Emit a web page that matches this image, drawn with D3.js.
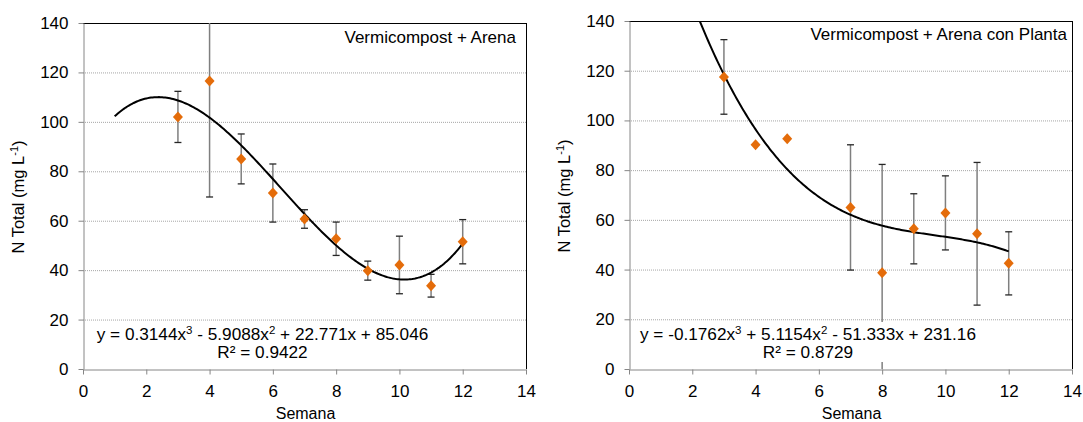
<!DOCTYPE html>
<html><head><meta charset="utf-8">
<script src="https://cdn.jsdelivr.net/npm/d3@7"></script>
<style>
html,body{margin:0;padding:0;background:#fff;}
svg{display:block;font-family:"Liberation Sans",Arial,sans-serif;}
</style></head>
<body>
<svg id="c" width="1083" height="422"></svg>
<script>
// ---- data ----
const xTicks = [0,2,4,6,8,10,12,14];
const yTicks = [0,20,40,60,80,100,120,140];
const gridVals = [20,40,60,80,100,120];

const weeksA = [3,4,5,6,7,8,9,10,11,12];
const nTotalA = [102,116.5,85,71.2,60.7,52.7,39.8,42.1,33.7,51.5];
const errA = [10.35,46.9,10.1,11.75,3.75,6.75,3.85,11.65,4.6,8.95];
const coefA = [0.3144,-5.9088,22.771,85.046];
const titleA = "Vermicompost + Arena";
const eqA = ["y = 0.3144x","3"," - 5.9088x","2"," + 22.771x + 85.046"];
const r2A = "R² = 0.9422";

const weeksB = [3,4,5,7,8,9,10,11,12];
const nTotalB = [117.5,90.2,92.6,65,38.7,56.4,62.8,54.4,42.5];
const errB = [15,0,0,25.2,43.6,14.1,14.9,28.7,12.7];
const coefB = [-0.1762,5.1154,-51.333,231.16];
const titleB = "Vermicompost + Arena con Planta";
const eqB = ["y = -0.1762x","3"," + 5.1154x","2"," - 51.333x + 231.16"];
const r2B = "R² = 0.8729";

const trendRange = [1,12];

const svg = d3.select("#c");

function panel(cfg){
  const x = d3.scaleLinear().domain([0,14]).range([cfg.left,cfg.right]);
  const y = d3.scaleLinear().domain([0,140]).range([cfg.bottom,cfg.top]);
  const g = svg.append("g");
  const cid = "clip"+cfg.id;
  svg.append("clipPath").attr("id",cid).append("rect")
    .attr("x",cfg.left).attr("y",cfg.top)
    .attr("width",cfg.right-cfg.left).attr("height",cfg.bottom-cfg.top);

  // grid
  g.selectAll(".grid").data(gridVals).join("line")
    .attr("x1",cfg.left).attr("x2",cfg.right)
    .attr("y1",d=>y(d)+0.5).attr("y2",d=>y(d)+0.5)
    .attr("stroke","#a6a6a6").attr("stroke-width",1).attr("stroke-dasharray","1,1");

  // border top / right
  g.append("line").attr("x1",cfg.left).attr("x2",cfg.right+0.5)
    .attr("y1",cfg.top+0.5).attr("y2",cfg.top+0.5).attr("stroke","#000");
  g.append("line").attr("x1",cfg.right+0.5).attr("x2",cfg.right+0.5)
    .attr("y1",cfg.top).attr("y2",cfg.bottom).attr("stroke","#000");

  // axes
  const xa = g.append("g").attr("transform",`translate(0,${cfg.bottom+0.5})`)
    .call(d3.axisBottom(x).tickValues(xTicks).tickSize(5).tickSizeOuter(0).tickPadding(10));
  const ya = g.append("g").attr("transform",`translate(${cfg.left+0.5},0)`)
    .call(d3.axisLeft(y).tickValues(yTicks).tickSize(5).tickSizeOuter(0).tickPadding(10));
  [xa,ya].forEach(a=>{
    a.select(".domain").attr("stroke","#868686");
    a.selectAll(".tick line").attr("stroke","#868686");
    a.selectAll(".tick text").attr("fill","#000").attr("font-size",17)
      .attr("font-family","Liberation Sans, Arial, sans-serif");
  });

  // axis titles
  g.append("text").attr("x",(cfg.left+cfg.right)/2+1).attr("y",cfg.bottom+50)
    .attr("text-anchor","middle").attr("font-size",16).text("Semana");
  const yt = g.append("text")
    .attr("transform",`translate(${cfg.ytx},${(cfg.top+cfg.bottom)/2+1}) rotate(-90)`)
    .attr("text-anchor","middle").attr("font-size",16.5);
  yt.append("tspan").text("N Total (mg L");
  yt.append("tspan").attr("font-size",11).attr("dy",-6).text("-1");
  yt.append("tspan").attr("dy",6).text(")");

  // title
  g.append("text").attr("x",cfg.titleX).attr("y",cfg.titleY)
    .attr("text-anchor","end").attr("font-size",17).text(cfg.title);

  const pg = g.append("g").attr("clip-path",`url(#${cid})`);

  // error bars
  const ed = cfg.weeks.map((w,i)=>({w,v:cfg.vals[i],e:cfg.errs[i]})).filter(d=>d.e>0);
  pg.selectAll(".eb").data(ed).join("line")
    .attr("x1",d=>x(d.w)).attr("x2",d=>x(d.w))
    .attr("y1",d=>y(d.v+d.e)).attr("y2",d=>y(d.v-d.e))
    .attr("stroke","#7f7f7f").attr("stroke-width",1.5);
  pg.selectAll(".capT").data(ed).join("line")
    .attr("x1",d=>x(d.w)-3.5).attr("x2",d=>x(d.w)+3.5)
    .attr("y1",d=>y(d.v+d.e)).attr("y2",d=>y(d.v+d.e))
    .attr("stroke","#262626").attr("stroke-width",1.3);
  pg.selectAll(".capB").data(ed).join("line")
    .attr("x1",d=>x(d.w)-3.5).attr("x2",d=>x(d.w)+3.5)
    .attr("y1",d=>y(d.v-d.e)).attr("y2",d=>y(d.v-d.e))
    .attr("stroke","#262626").attr("stroke-width",1.3);

  // trend curve from equation coefficients
  const c = cfg.coef;
  const f = t => c[0]*t*t*t + c[1]*t*t + c[2]*t + c[3];
  const pts = d3.range(trendRange[0], trendRange[1]+0.0001, 0.05).map(t=>[t,f(t)]);
  pg.append("path").datum(pts)
    .attr("d",d3.line().x(d=>x(d[0])).y(d=>y(d[1])))
    .attr("fill","none").attr("stroke","#000").attr("stroke-width",2);

  // markers
  pg.selectAll(".mk").data(cfg.weeks.map((w,i)=>({w,v:cfg.vals[i]}))).join("path")
    .attr("d","M0,-5.5L5,0L0,5.5L-5,0Z")
    .attr("transform",d=>`translate(${x(d.w)},${y(d.v)})`)
    .attr("fill","#E46C0A");

  // equation label with white box
  g.append("rect").attr("x",cfg.eqBox[0]).attr("y",cfg.eqBox[1])
    .attr("width",cfg.eqBox[2]).attr("height",cfg.eqBox[3]).attr("fill","#fff");
  const et = g.append("text").attr("x",cfg.eqX).attr("y",cfg.eqY)
    .attr("text-anchor","middle").attr("font-size",17.2);
  cfg.eq.forEach((s,i)=>{
    const ts = et.append("tspan").text(s);
    if(i%2===1){ ts.attr("font-size",11.5).attr("dy",-6); }
    else if(i>0){ ts.attr("dy",6); }
  });
  g.append("text").attr("x",cfg.eqX).attr("y",cfg.eqY+18)
    .attr("text-anchor","middle").attr("font-size",17.2).text(cfg.r2);
}

panel({id:"A",left:83,right:526,top:23,bottom:369,ytx:24,
  weeks:weeksA,vals:nTotalA,errs:errA,coef:coefA,title:titleA,titleX:516,titleY:43,
  eq:eqA,r2:r2A,eqX:262.5,eqY:340,eqBox:[92,322,342,40]});
panel({id:"B",left:629,right:1072,top:21,bottom:369,ytx:570,
  weeks:weeksB,vals:nTotalB,errs:errB,coef:coefB,title:titleB,titleX:1067,titleY:40,
  eq:eqB,r2:r2B,eqX:808,eqY:340,eqBox:[636,322,346,40]});
</script>
</body></html>
